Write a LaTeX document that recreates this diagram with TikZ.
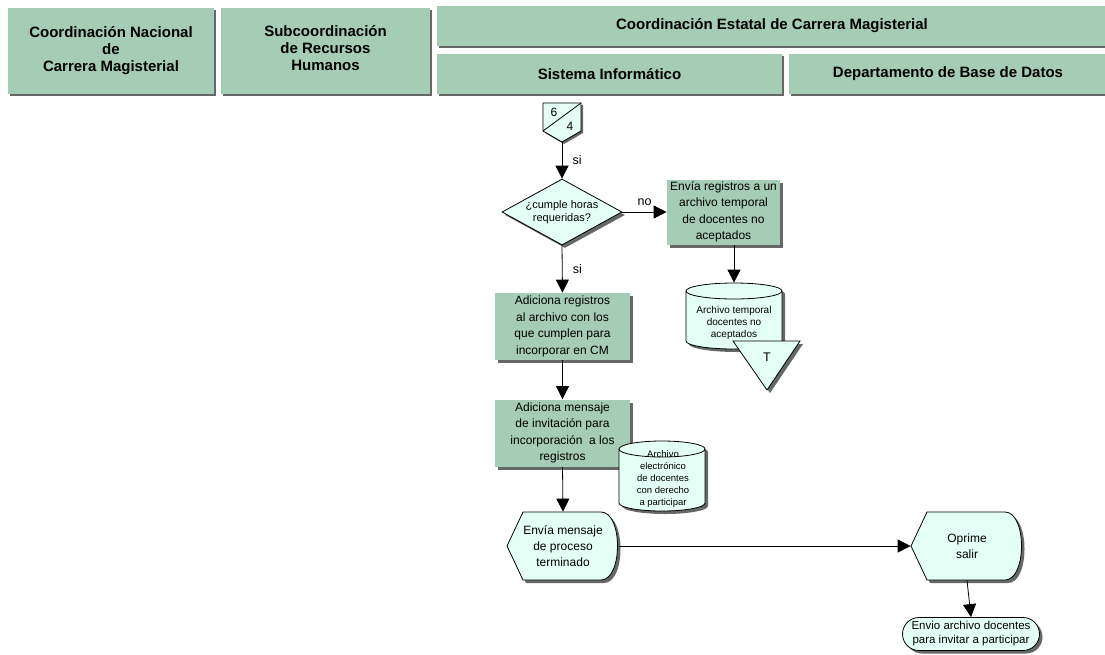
\documentclass[tikz,border=0pt]{standalone}
\usepackage{fontspec}
\setmainfont{Liberation Sans}
\usetikzlibrary{arrows.meta,shapes.geometric,shapes.misc,shadows}

\definecolor{sage}{RGB}{165,204,180}
\definecolor{mint}{RGB}{228,255,245}
\definecolor{shadegray}{RGB}{100,104,102}

% screen shape: pointed on the left, rounded on the right
\newcommand{\screenshape}[1]{%
  \fill[shadegray, shift={#1}, xshift=3pt, yshift=-3pt]
    (-56,0) -- (-40,-34) -- (38,-34) .. controls (60,-34) and (60,34) .. (38,34) -- (-40,34) -- cycle;
  \filldraw[fill=mint, shift={#1}]
    (-56,0) -- (-40,-34) -- (38,-34) .. controls (60,-34) and (60,34) .. (38,34) -- (-40,34) -- cycle;}

% stored data: centre, half width, half height
\newcommand{\storeshape}[3]{%
  \begin{scope}[shift={#1}]
    \fill[shadegray, xshift=3pt, yshift=-3pt] (-#2,-#3+8) -- (-#2,#3-8)
      arc[start angle=180, end angle=360, x radius=#2pt, y radius=8pt] -- (#2,-#3+8)
      arc[start angle=0, end angle=180, x radius=#2pt, y radius=8pt] -- cycle;
    \filldraw[fill=mint] (-#2,-#3+8) -- (-#2,#3-8)
      arc[start angle=180, end angle=360, x radius=#2pt, y radius=8pt] -- (#2,-#3+8)
      arc[start angle=0, end angle=180, x radius=#2pt, y radius=8pt] -- cycle;
    \draw (-#2,-#3+8) arc[start angle=180, end angle=360, x radius=#2pt, y radius=8pt];
  \end{scope}}

\begin{document}
\begin{tikzpicture}[x=1pt, y=-1pt, line width=0.8pt,
    >={Triangle[length=13pt, width=13pt]},
    lane/.style={rectangle, fill=sage, inner sep=0pt, align=center,
        font=\fontsize{15}{17}\selectfont\bfseries,
        drop shadow={shadow xshift=2pt, shadow yshift=-2pt, fill=shadegray, opacity=1}},
    task/.style={rectangle, fill=sage, inner sep=0pt, align=center,
        minimum width=135pt, minimum height=67pt,
        font=\fontsize{12}{16.5}\selectfont,
        drop shadow={shadow xshift=3pt, shadow yshift=-3pt, fill=shadegray, opacity=1}},
    storebox/.style={rectangle, inner sep=0pt},
    storetext/.style={align=center, inner sep=0pt, font=\fontsize{10}{11.8}\selectfont},
    decision/.style={diamond, draw, fill=mint, aspect=1.8, inner sep=0pt,
        minimum width=120pt, minimum height=66pt, align=center,
        font=\fontsize{11}{13}\selectfont,
        drop shadow={shadow xshift=3pt, shadow yshift=-3pt, fill=shadegray, opacity=1}},
    screen/.style={rectangle, minimum width=112pt, minimum height=68pt,
        inner sep=0pt, align=center, font=\fontsize{12}{16}\selectfont},
    terminal/.style={rounded rectangle, draw, fill=mint, inner sep=0pt,
        minimum width=137pt, minimum height=33pt, align=center,
        font=\fontsize{11.5}{14}\selectfont,
        drop shadow={shadow xshift=3pt, shadow yshift=-3pt, fill=shadegray, opacity=1}},
    flowlabel/.style={font=\fontsize{12.5}{14}\selectfont}]

    \useasboundingbox (0,0) rectangle (1105,654);

    % Swimlane headers
    \node[lane, minimum width=206pt, minimum height=86pt] (nacional) at (111,51)
        {Coordinación Nacional\\de\\Carrera Magisterial};
    \node[lane, minimum width=209pt, minimum height=86pt] (subcoord) at (325.5,51)
        {Subcoordinación\\de Recursos\\Humanos\\[-10pt]};
    \node[lane, minimum width=670pt, minimum height=40pt] (estatal) at (772,26)
        {Coordinación Estatal de Carrera Magisterial};
    \node[lane, minimum width=345pt, minimum height=40pt] (sistema) at (609.5,74)
        {Sistema Informático};
    \node[lane, minimum width=318pt, minimum height=40pt] (depto) at (948,74)
        {Departamento de Base de Datos};

    % Off-page connector
    \fill[shadegray, xshift=2pt, yshift=-2pt]
        (543,103) -- (581,103) -- (581,131) -- (562,142) -- (543,131) -- cycle;
    \filldraw[fill=mint] (543,103) -- (581,103) -- (581,131) -- (562,142) -- (543,131) -- cycle;
    \draw (543,131) -- (581,103);
    \node[font=\fontsize{12}{12}\selectfont] (pagefrom) at (554,112) {6};
    \node[font=\fontsize{12}{12}\selectfont] (pageto) at (570,126) {4};
    \coordinate (conn) at (562,142);

    % Decision and rejected branch
    \node[decision] (horas) at (562,212) {¿cumple horas\\requeridas?};
    \node[task, minimum width=113pt, minimum height=65pt] (envia) at (723.5,212)
        {Envía registros a un\\archivo temporal\\de docentes no\\aceptados};
    \storeshape{(734,316)}{48}{33}
    \node[storebox, minimum width=96pt, minimum height=66pt] (temporal) at (734,316) {};
    \node[storetext] (temporaltxt) at (734,323) {Archivo temporal\\docentes no\\aceptados};
    \fill[shadegray, xshift=3pt, yshift=-3pt] (733,341) -- (800,341) -- (767,390) -- cycle;
    \filldraw[fill=mint] (733,341) -- (800,341) -- (767,390) -- cycle;
    \node[flowlabel] (tlabel) at (767,357) {T};

    % Accepted branch
    \node[task] (adiciona) at (562.5,326.5)
        {Adiciona registros\\al archivo con los\\que cumplen para\\incorporar en CM};
    \node[task] (mensaje) at (562.5,433)
        {Adiciona mensaje\\de invitación para\\incorporación~ a los\\registros};
    \storeshape{(662,476)}{43}{35}
    \node[storebox, minimum width=86pt, minimum height=70pt] (electronico) at (662,476) {};
    \node[storetext, font=\fontsize{9.5}{11.8}\selectfont] (electronicotxt) at (663,479)
        {Archivo\\electrónico\\de docentes\\con derecho\\a participar};

    % Screens and end
    \screenshape{(563,546)}
    \node[screen] (terminado) at (563,546) {Envía mensaje\\de proceso\\terminado};
    \screenshape{(967,546)}
    \node[screen] (oprime) at (967,546) {Oprime\\salir};
    \node[terminal] (envio) at (971,634) {Envio archivo docentes\\para invitar a participar};

    % Connectors
    \draw[->] (conn) -- (horas.north) node[flowlabel, midway, right=7pt] {si};
    \draw[->] (horas.east) -- (envia.west) node[flowlabel, midway, above=3pt] {no};
    \draw[->] (envia.south -| temporal.north) -- (temporal.north);
    \draw[->] (horas.south) -- (adiciona.north) node[flowlabel, midway, right=7pt] {si};
    \draw[->] (adiciona.south) -- (mensaje.north);
    \draw[->] (mensaje.south) -- (terminado.north);
    \draw[->] (terminado.east) -- (oprime.west);
    \draw[->] (oprime.south) -- (envio.north);
\end{tikzpicture}
\end{document}
